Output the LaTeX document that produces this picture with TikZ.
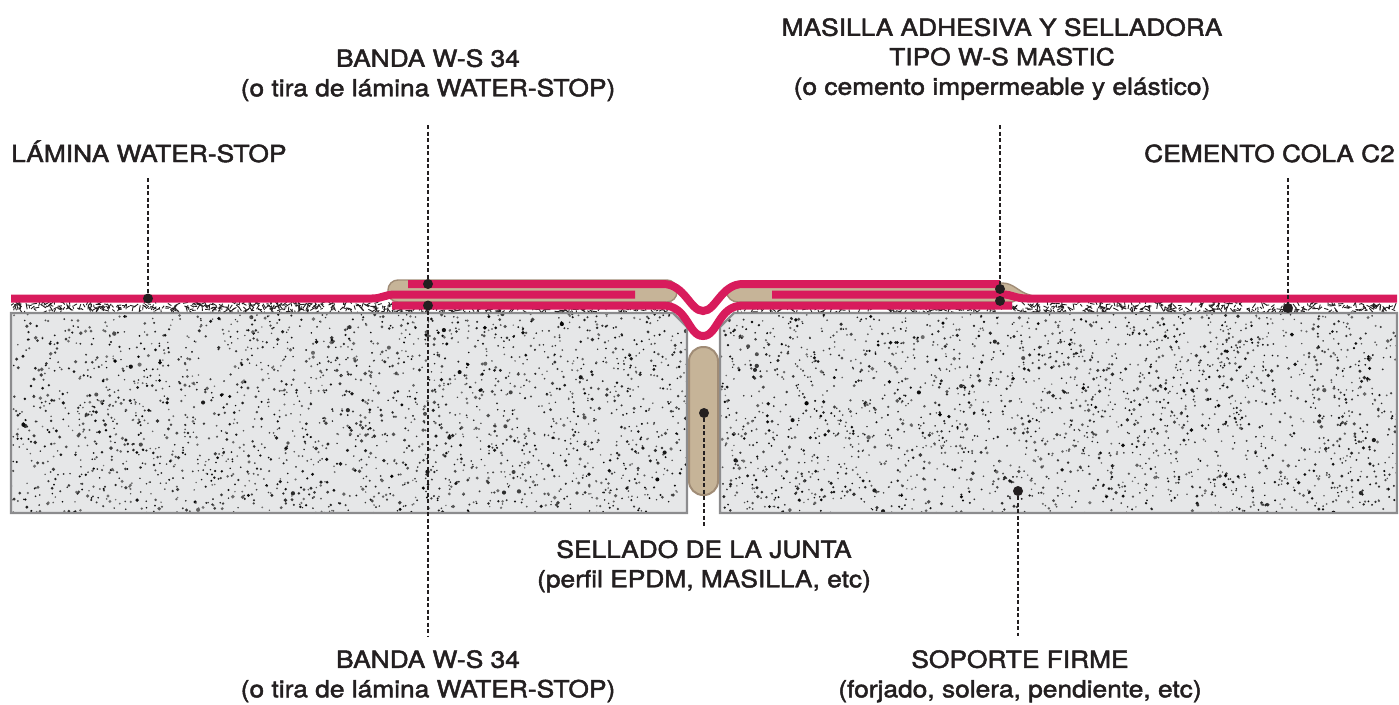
\documentclass[tikz,border=0pt]{standalone}
\usepackage{fontspec}
\setmainfont{TeX Gyre Heros}[FakeStretch=1.12,FakeBold=2]
\usetikzlibrary{positioning}

\definecolor{wsPink}{RGB}{216,27,92}
\definecolor{wsBeige}{RGB}{198,180,152}
\definecolor{wsBeigeLine}{RGB}{160,140,118}
\definecolor{wsSlab}{RGB}{230,231,232}
\definecolor{wsSlabLine}{RGB}{140,140,142}
\definecolor{wsInk}{RGB}{35,31,32}

\tikzset{
  callout/.style={align=center, inner sep=0pt, text=wsInk, font=\fontsize{23.5}{29.5}\selectfont},
  leader/.style={wsInk, line width=2.8pt, dash pattern=on 4pt off 2.5pt},
  tag/.style={circle, fill=wsInk, inner sep=0pt, minimum size=10pt},
  strip/.style={wsPink, line width=8pt},
  mastic/.style={fill=wsBeige, draw=wsBeigeLine, line width=1.4pt},
}

\begin{document}
\begin{tikzpicture}[x=1pt, y=-1pt]
\useasboundingbox (0,0) rectangle (1399,704);
\pgfmathsetseed{1234}

% soporte (two slabs)
\begin{scope}
  \clip (11,313) -- (673,313) -- (687,327) -- (687,513) -- (11,513) -- cycle
        (734,313) -- (1397,313) -- (1397,513) -- (720,513) -- (720,327) -- cycle;
  \fill[wsSlab] (0,300) rectangle (1399,520);
  \foreach \xa in {11,720}{
    \foreach \i in {1,...,2300}{
      \pgfmathsetmacro\px{\xa+677*rnd}
      \pgfmathsetmacro\py{314+199*rnd}
      \pgfmathsetmacro\pr{0.8+1.4*rnd*rnd}
      \pgfmathtruncatemacro\pg{55+45*rnd}
      \fill[black!\pg] (\px,\py) circle (\pr);
    }
  }
\end{scope}
\draw[wsSlabLine, line width=2.2pt] (11,313) -- (673,313) -- (687,327) -- (687,513) -- (11,513) -- cycle;
\draw[wsSlabLine, line width=2.2pt] (734,313) -- (1397,313) -- (1397,513) -- (720,513) -- (720,327) -- cycle;

% cemento cola
\begin{scope}
  \clip (11,302) rectangle (673,312) (734,302) rectangle (1397,312);
  \foreach \i in {1,...,1150}{
    \pgfmathsetmacro\px{11+1386*rnd}
    \pgfmathsetmacro\py{303+9*rnd}
    \pgfmathsetmacro\pa{360*rnd}
    \pgfmathsetmacro\pl{2.5+4*rnd}
    \draw[wsInk, line width=0.9pt] (\px,\py) -- ++(\pa:\pl);
  }
\end{scope}

% sellado de la junta
\filldraw[mastic, line width=2pt, rounded corners=14pt] (689,347) rectangle (718,495);

% masilla
\filldraw[mastic, rounded corners=10pt] (388,280) rectangle (677,302);
\filldraw[mastic] (738,283) -- (1002,283) .. controls (1014,283) and (1018,292) .. (1030,295)
  -- (1012,302) -- (738,302) arc[start angle=90, end angle=270, x radius=11, y radius=9.5] -- cycle;

% laminas y bandas
\draw[strip] (11,298.5) -- (372,298.5) .. controls (382,298.5) and (385,294.5) .. (395,294.5) -- (635,294.5);
\draw[strip] (1397,298.5) -- (1027,298.5) .. controls (1015,298.5) and (1012,294.5) .. (1003,294.5) -- (772,294.5);
\draw[strip] (392,305.5) -- (663,305.5) .. controls (688,305.5) and (688,336) .. (703,336)
  .. controls (718,336) and (718,305.5) .. (743,305.5) -- (1012,305.5);
\draw[strip] (408,284) -- (663,284) .. controls (685,284) and (690,311) .. (703,311)
  .. controls (716,311) and (721,284) .. (743,284) -- (1000,284);

% tags
\node[tag] (lamDot) at (148,298.5) {};
\node[tag] (bandaTopDot) at (428,284) {};
\node[tag] (bandaBotDot) at (428,305.5) {};
\node[tag] (masDotA) at (1000,289) {};
\node[tag, below=1.5pt of masDotA] (masDotB) {};
\node[tag] (cemDot) at (1288,308) {};
\node[tag] (selDot) at (704,413) {};
\node[tag] (sopDot) at (1018,491) {};

\coordinate (lamTop) at (148,178);
\coordinate (bandaTopTop) at (428,125);
\coordinate (masTop) at (1000,125);
\coordinate (cemTop) at (1288,178);
\coordinate (bandaBotEnd) at (428,636);
\coordinate (selEnd) at (704,528);
\coordinate (sopEnd) at (1018,636);

\draw[leader] (lamTop) -- (lamDot);
\draw[leader] (bandaTopTop) -- (bandaTopDot);
\draw[leader] (masTop) -- (masDotA);
\draw[leader] (cemTop) -- (cemDot);
\draw[leader] (bandaBotDot) -- (bandaBotEnd);
\draw[leader] (selDot) -- (selEnd);
\draw[leader] (sopDot) -- (sopEnd);

% textos
\node[callout, anchor=base west] (lamTxt) at (11,162) {LÁMINA WATER-STOP};
\node[callout, anchor=base east] (cemTxt) at (1395,162) {CEMENTO COLA C2};
\node[callout, anchor=north] (bandaTopTxt) at (428,49) {BANDA W-S 34\\(o tira de lámina WATER-STOP)};
\node[callout, anchor=north] (masTxt) at (1002,18) {MASILLA ADHESIVA Y SELLADORA\\TIPO W-S MASTIC\\(o cemento impermeable y elástico)};
\node[callout, anchor=north] (selTxt) at (704,540) {SELLADO DE LA JUNTA\\(perfil EPDM, MASILLA, etc)};
\node[callout, anchor=north] (bandaBotTxt) at (428,650) {BANDA W-S 34\\(o tira de lámina WATER-STOP)};
\node[callout, anchor=north] (sopTxt) at (1020,650) {SOPORTE FIRME\\(forjado, solera, pendiente, etc)};
\end{tikzpicture}
\end{document}
